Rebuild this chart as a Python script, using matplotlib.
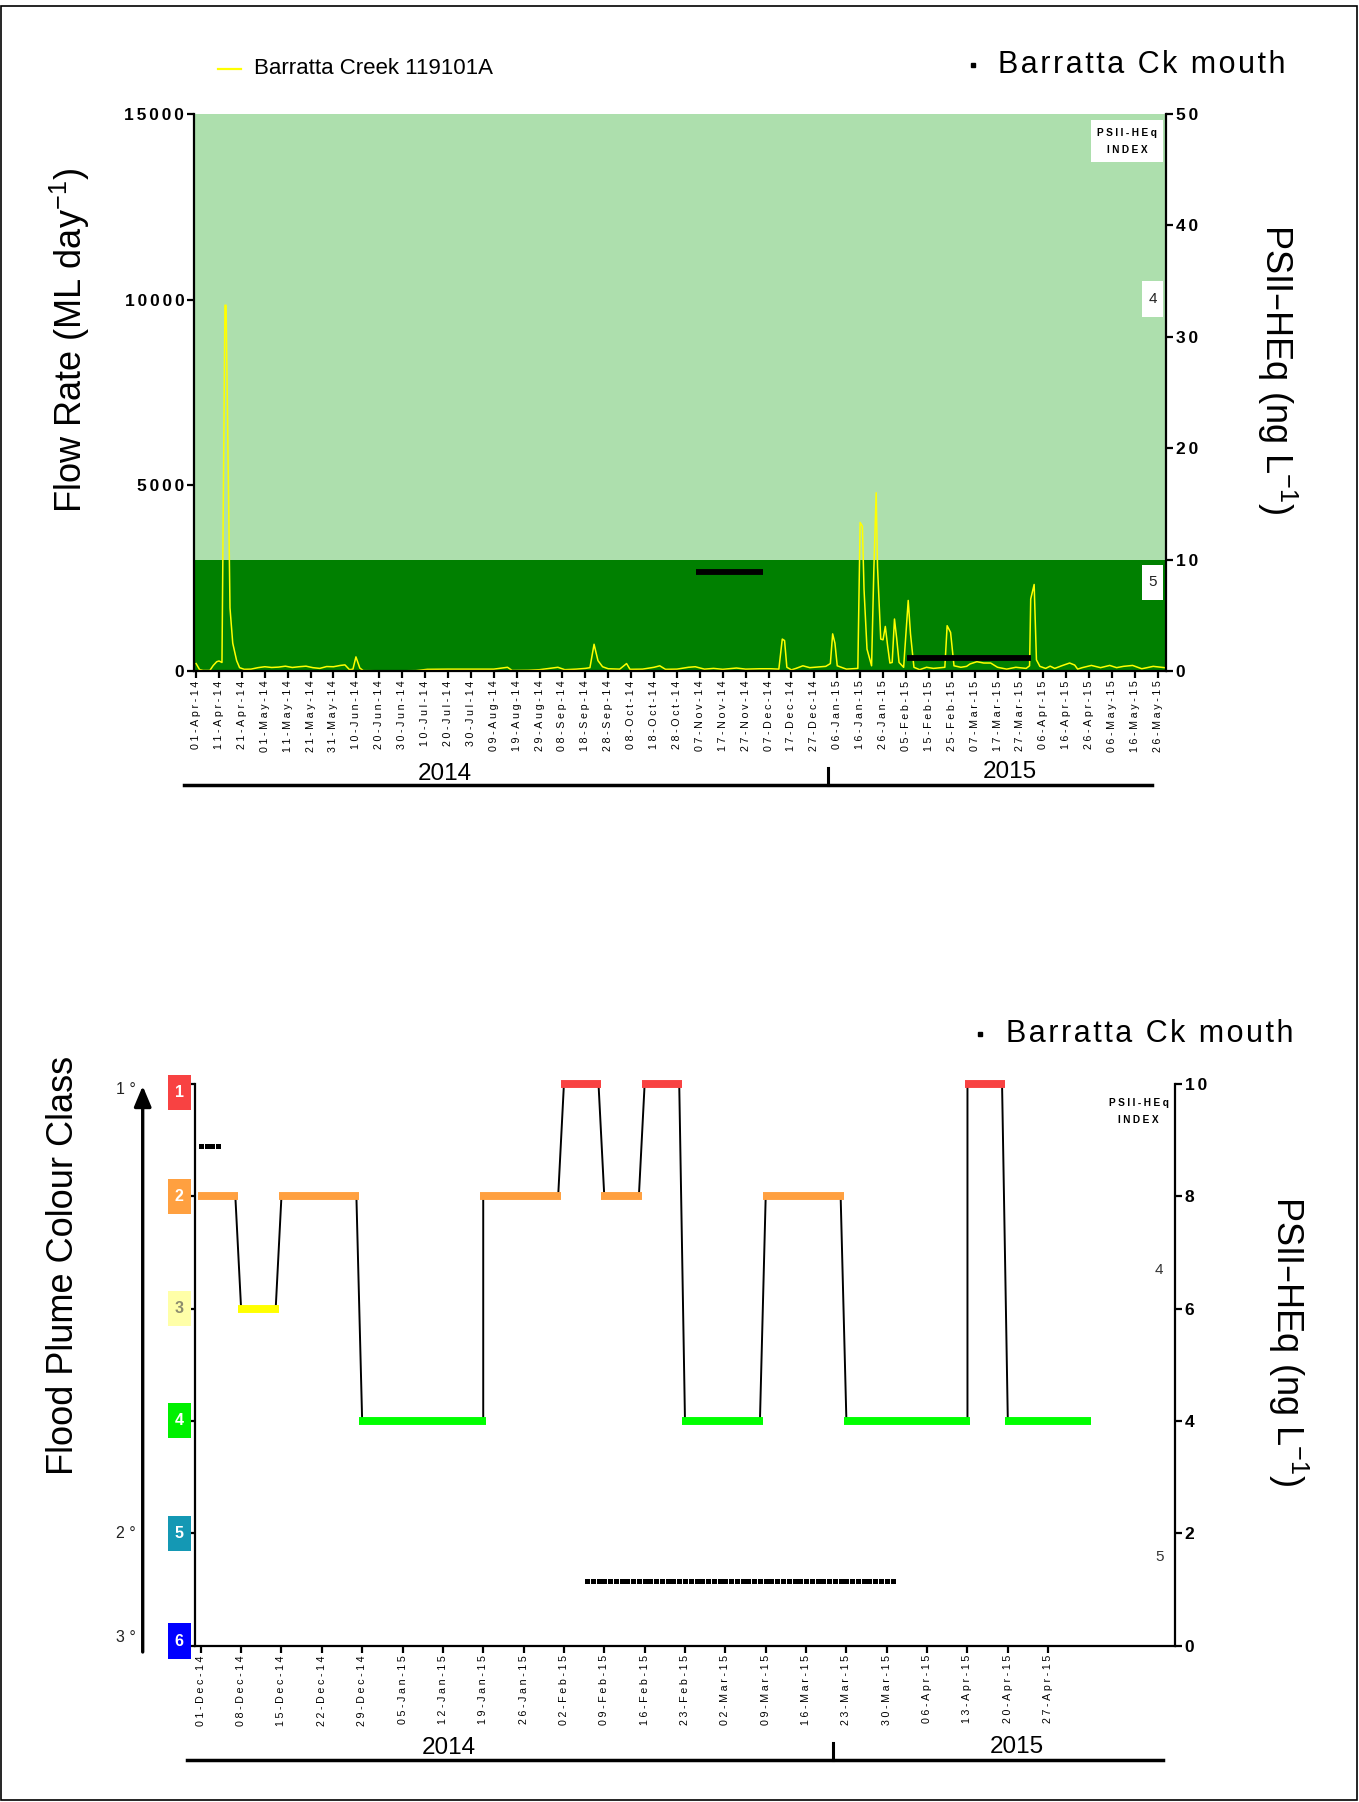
import datetime as dt
import numpy as np
import matplotlib
matplotlib.use('Agg')
import matplotlib.pyplot as plt
import matplotlib.transforms as mtrans
from matplotlib.patches import Rectangle
from matplotlib.lines import Line2D

plt.rcParams['font.family'] = ['Liberation Sans', 'DejaVu Sans']
plt.rcParams['mathtext.default'] = 'regular'
plt.rcParams['axes.linewidth'] = 1.6

# ------------------------------------------------------------------ data
flow_base = '2014-04-01'
# days since 01-Apr-2014 and daily flow (ML/day)
flow_days = [0, 1.5, 3, 6, 7.5, 9, 10, 11.3, 12.6, 13.1,
             14.8, 16, 17.7, 19, 21, 24, 27, 30, 33, 36,
             39, 42, 45, 48, 51, 54, 57, 60, 63, 65,
             67, 68.5, 69.8, 71.5, 73, 80, 90, 96, 101, 110,
             120, 130, 136, 138, 145, 150, 158, 161, 166, 170,
             172, 173.8, 175.5, 177.5, 180, 185, 188, 189.5, 195, 200,
             202.5, 205, 210, 215, 218, 222, 226, 230, 236, 240,
             246, 251, 254.5, 256, 257, 258, 260, 262, 265, 268,
             272, 275, 277, 278, 279, 280, 284, 289, 290, 291,
             291.7, 293, 295, 296, 297, 297.6, 299, 300, 301, 302,
             303, 304, 305, 306, 307, 309, 311, 312, 313.5, 316,
             319, 322, 327, 328, 329.5, 331, 334, 336.5, 338, 341,
             344, 347, 350, 354, 358, 362.5, 364, 364.5, 366, 367,
             368.5, 371, 373, 375, 378, 381.5, 383.7, 385, 387, 391,
             395, 399, 402, 405, 409, 413, 418, 423]
flow_ml = [200, 40, 15, 15, 150, 250, 270, 230, 9850, 9850,
           1700, 750, 280, 90, 45, 50, 90, 115, 95, 105,
           130, 95, 115, 130, 90, 70, 120, 115, 150, 165,
           35, 50, 380, 80, 10, 5, 5, 10, 45, 50,
           50, 50, 100, 15, 20, 35, 100, 35, 50, 70,
           90, 720, 280, 115, 60, 50, 200, 45, 50, 100,
           140, 45, 50, 100, 115, 50, 70, 45, 80, 50,
           60, 60, 50, 860, 820, 100, 30, 70, 140, 90,
           110, 125, 200, 1000, 750, 140, 50, 70, 4000, 3900,
           2200, 590, 140, 2750, 4800, 2800, 860, 840, 1200, 680,
           215, 230, 1400, 860, 230, 100, 1900, 1000, 100, 35,
           100, 70, 100, 1220, 1040, 140, 100, 125, 190, 250,
           215, 215, 100, 50, 100, 70, 140, 1940, 2330, 300,
           125, 70, 130, 70, 140, 215, 160, 50, 90, 150,
           90, 150, 90, 125, 150, 60, 125, 90]

# passive sampler deployments (PSII-HEq, ng/L)
psii_start = ['2014-11-06', '2015-02-06']
psii_end = ['2014-12-04', '2015-03-31']
psii_value = [8.9, 1.15]

# PSII-HEq index bands (ng/L) and their index numbers
index_edges = [0, 10, 50]
index_names = ['5', '4']
band_colors = ['#008000', '#ADDFAD']

# flood plume colour class per period
class_start = ['2014-12-01', '2014-12-08', '2014-12-15', '2014-12-29', '2015-01-19',
               '2015-02-02', '2015-02-09', '2015-02-16', '2015-02-23', '2015-03-09',
               '2015-03-23', '2015-04-13', '2015-04-20']
class_end = ['2014-12-07', '2014-12-14', '2014-12-28', '2015-01-19', '2015-02-01',
             '2015-02-08', '2015-02-15', '2015-02-22', '2015-03-08', '2015-03-22',
             '2015-04-13', '2015-04-19', '2015-05-04']
class_value = [2, 3, 2, 4, 2, 1, 2, 1, 4, 2, 4, 1, 4]

class_ids = [1, 2, 3, 4, 5, 6]
class_box_colors = ['#F84242', '#FFA040', '#FFFFA8', '#00F000', '#1498B4', '#0000FF']
class_text_colors = ['white', 'white', '#8C8C6E', 'white', 'white', 'white']
class_line_colors = {1: '#F84242', 2: '#FFA040', 3: '#FFFF00', 4: '#00FF00'}

top_tick_start, top_tick_end, top_tick_step = '2014-04-01', '2015-05-26', 10
bot_tick_start, bot_tick_end, bot_tick_step = '2014-12-01', '2015-04-27', 7

flow_ticks = [0, 5000, 10000, 15000]
psii_ticks_top = [0, 10, 20, 30, 40, 50]
psii_ticks_bot = [0, 2, 4, 6, 8, 10]

# ------------------------------------------------------------------ helpers
W, H = 1359, 1802
fig = plt.figure(figsize=(W / 100, H / 100), dpi=100)


def fx(px):
    return px / W


def fy(py):
    return 1 - py / H


def d(s):
    return dt.datetime.strptime(s, '%Y-%m-%d')


def spaced(s, gap='\u2005'):
    return gap.join(s)


half = dt.timedelta(hours=12)


def date_ticks(a, b, step):
    out = []
    t = d(a)
    while t <= d(b):
        out.append(t)
        t += dt.timedelta(days=step)
    return out


base = d(flow_base)
flow_dates = [base + dt.timedelta(days=x) for x in flow_days]

YT_SIZE = 12.5
YT_GAP = '\u2006'

# ------------------------------------------------------------------ top panel
ax1 = fig.add_axes([fx(194), fy(671), fx(1166) - fx(194), fy(114) - fy(671)])
ax2 = ax1.twinx()

band_tr = mtrans.blended_transform_factory(ax1.transAxes, ax2.transData)
for lo, hi, col in zip(index_edges[:-1], index_edges[1:], band_colors):
    ax1.add_patch(Rectangle((0, lo), 1, hi - lo, transform=band_tr,
                            facecolor=col, edgecolor='none', zorder=0))

ax1.plot(flow_dates, flow_ml, color='#FFFF00', lw=1.1, zorder=2)

for s, e, v in zip(psii_start, psii_end, psii_value):
    ax2.plot([d(s) - half, d(e) + half], [v, v], color='black', lw=4.2,
             solid_capstyle='butt', zorder=3)

ax1.set_xlim(d('2014-03-31') + dt.timedelta(hours=2), d('2015-05-29') + dt.timedelta(hours=14))
ax1.set_ylim(0, 15000)
ax2.set_ylim(0, 50)

tt = date_ticks(top_tick_start, top_tick_end, top_tick_step)
ax1.set_xticks(tt)
ax1.set_xticklabels([spaced(t.strftime('%d-%b-%y')) for t in tt], rotation=90, fontsize=7.7)
ax1.set_yticks(flow_ticks)
ax1.set_yticklabels([spaced(str(v), YT_GAP) for v in flow_ticks], fontsize=YT_SIZE,
                    fontweight='bold')
ax2.set_yticks(psii_ticks_top)
ax2.set_yticklabels([spaced(str(v), YT_GAP) for v in psii_ticks_top], fontsize=YT_SIZE,
                    fontweight='bold')
for a in (ax1, ax2):
    a.tick_params(axis='both', length=5, width=1.6, pad=2, direction='out')
ax1.spines['top'].set_visible(False)
ax1.spines['right'].set_visible(False)
for k in ('top', 'left', 'bottom'):
    ax2.spines[k].set_visible(False)

# index boxes (top panel)
box_tr = mtrans.blended_transform_factory(ax2.transAxes, ax2.transData)
ax2.add_patch(Rectangle((0.923, 45.7), 0.074, 3.8, transform=box_tr, facecolor='white',
                        edgecolor='none', zorder=4))
ax2.text(0.960, 48.25, spaced('PSII-HEq'), transform=box_tr, ha='center', va='center',
         fontsize=7.3, fontweight='bold', zorder=5)
ax2.text(0.960, 46.75, spaced('INDEX'), transform=box_tr, ha='center', va='center',
         fontsize=7.3, fontweight='bold', zorder=5)
for name, yc in zip(index_names, [7.95, 33.4]):
    ax2.add_patch(Rectangle((0.975, yc - 1.6), 0.022, 3.2, transform=box_tr,
                            facecolor='white', edgecolor='none', zorder=4))
    ax2.text(0.986, yc, name, transform=box_tr, ha='center', va='center',
             fontsize=11, color='#222222', zorder=5)

# legend / station label (top)
fig.add_artist(Line2D([fx(218), fx(241)], [fy(69), fy(69)], color='#FFFF00', lw=1.6))
fig.text(fx(254), fy(69), 'Barratta Creek 119101A', fontsize=16, ha='left', va='center')
fig.add_artist(Line2D([fx(973)], [fy(65)], marker='s', ms=3.5, color='black', lw=0))
fig.text(fx(998), fy(65), spaced('Barratta Ck mouth', '\u200a'), fontsize=22,
         ha='left', va='center')

fig.text(fx(70), fy(340), 'Flow Rate (ML day$^{-1}$)', rotation=90, fontsize=26,
         ha='center', va='center')
fig.text(fx(1277), fy(369), 'PSII\u2013HEq (ng L$^{-1}$)', rotation=270, fontsize=26,
         ha='center', va='center')

# year bracket (top)
fig.add_artist(Line2D([fx(184), fx(1152)], [fy(785), fy(785)], color='black', lw=2.5))
fig.add_artist(Line2D([fx(828), fx(828)], [fy(785), fy(768)], color='black', lw=2.2))
fig.text(fx(445), fy(774), '2014', fontsize=17.5, ha='center', va='center')
fig.text(fx(1010), fy(772), '2015', fontsize=17.5, ha='center', va='center')

# ------------------------------------------------------------------ bottom panel
ax3 = fig.add_axes([fx(194.5), fy(1645.5), fx(1175) - fx(194.5), fy(1084) - fy(1645.5)])
ax4 = ax3.twinx()

xs, ys = [], []
for s, e, c in zip(class_start, class_end, class_value):
    xs += [d(s), d(e)]
    ys += [c, c]
ax3.plot(xs, ys, color='black', lw=1.4, zorder=2, clip_on=False)
for s, e, c in zip(class_start, class_end, class_value):
    ax3.plot([d(s) - half, d(e) + half], [c, c], color=class_line_colors[c], lw=5.7,
             solid_capstyle='butt', zorder=3, clip_on=False)

first_bot = d(bot_tick_start)
for s, e, v in zip(psii_start, psii_end, psii_value):
    t0 = max(d(s), first_bot)
    days = []
    t = t0
    while t <= d(e):
        days.append(t)
        t += dt.timedelta(days=1)
    ax4.plot(days, [v] * len(days), 's', color='black', ms=3.6, mew=0, zorder=4)

ax3.set_xlim(d('2014-11-29') + dt.timedelta(hours=22), d('2015-05-19'))
ax3.set_ylim(6, 1)
ax4.set_ylim(0, 10)

bt = date_ticks(bot_tick_start, bot_tick_end, bot_tick_step)
ax3.set_xticks(bt)
ax3.set_xticklabels([spaced(t.strftime('%d-%b-%y')) for t in bt], rotation=90, fontsize=7.7)
ax3.set_yticks(class_ids)
ax3.set_yticklabels([])
ax4.set_yticks(psii_ticks_bot)
ax4.set_yticklabels([spaced(str(v), YT_GAP) for v in psii_ticks_bot], fontsize=YT_SIZE,
                    fontweight='bold')
for a in (ax3, ax4):
    a.tick_params(axis='both', length=5, width=1.6, pad=2, direction='out')
ax3.spines['top'].set_visible(False)
ax3.spines['right'].set_visible(False)
for k in ('top', 'left', 'bottom'):
    ax4.spines[k].set_visible(False)

# class boxes
cls_tr = mtrans.blended_transform_factory(ax3.transAxes, ax3.transData)
for c, bc, tc in zip(class_ids, class_box_colors, class_text_colors):
    yc = min(max(c, 1.075), 5.96)
    ax3.add_patch(Rectangle((-0.0270, yc - 0.156), 0.0230, 0.312, transform=cls_tr,
                            facecolor=bc, edgecolor='none', clip_on=False, zorder=5))
    ax3.text(-0.0155, yc, str(c), transform=cls_tr, ha='center', va='center',
             fontsize=11.5, fontweight='bold', color=tc, clip_on=False, zorder=6)

# degree labels and arrow
for lab, py in zip(['1 \u00b0', '2 \u00b0', '3 \u00b0'], [1089, 1533, 1637]):
    fig.text(fx(126), fy(py), lab, fontsize=11.5, ha='center', va='center', color='#222222')
fig.add_artist(matplotlib.patches.FancyArrowPatch(
    (fx(142.7), fy(1652)), (fx(142.7), fy(1086)), transform=fig.transFigure,
    arrowstyle='-|>,head_length=0.62,head_width=0.26', mutation_scale=20,
    color='black', lw=2.4, shrinkA=0, shrinkB=0))

# index text (bottom)
idx_tr = mtrans.blended_transform_factory(ax4.transAxes, ax4.transData)
ax4.text(0.963, 9.66, spaced('PSII-HEq'), transform=idx_tr, ha='center', va='center',
         fontsize=7.3, fontweight='bold')
ax4.text(0.963, 9.36, spaced('INDEX'), transform=idx_tr, ha='center', va='center',
         fontsize=7.3, fontweight='bold')
for name, yv in zip(index_names, [1.57, 6.68]):
    ax4.text(0.984, yv, name, transform=idx_tr, ha='center', va='center',
             fontsize=11, color='#333333')

fig.add_artist(Line2D([fx(980)], [fy(1034)], marker='s', ms=3.5, color='black', lw=0))
fig.text(fx(1006), fy(1034), spaced('Barratta Ck mouth', '\u200a'), fontsize=22,
         ha='left', va='center')

fig.text(fx(64), fy(1265), 'Flood Plume Colour Class', rotation=90, fontsize=26,
         ha='center', va='center')
fig.text(fx(1288), fy(1341), 'PSII\u2013HEq (ng L$^{-1}$)', rotation=270, fontsize=26,
         ha='center', va='center')

# year bracket (bottom)
fig.add_artist(Line2D([fx(186.5), fx(1163)], [fy(1760), fy(1760)], color='black', lw=2.5))
fig.add_artist(Line2D([fx(833), fx(833)], [fy(1760), fy(1743)], color='black', lw=2.2))
fig.text(fx(449), fy(1748), '2014', fontsize=17.5, ha='center', va='center')
fig.text(fx(1017), fy(1747), '2015', fontsize=17.5, ha='center', va='center')

# figure frame
fig.add_artist(Rectangle((fx(1), fy(1800)), fx(1356), fy(6) - fy(1800), transform=fig.transFigure,
                         facecolor='none', edgecolor='black', lw=1.2))

fig.savefig('out.png', dpi=100)
